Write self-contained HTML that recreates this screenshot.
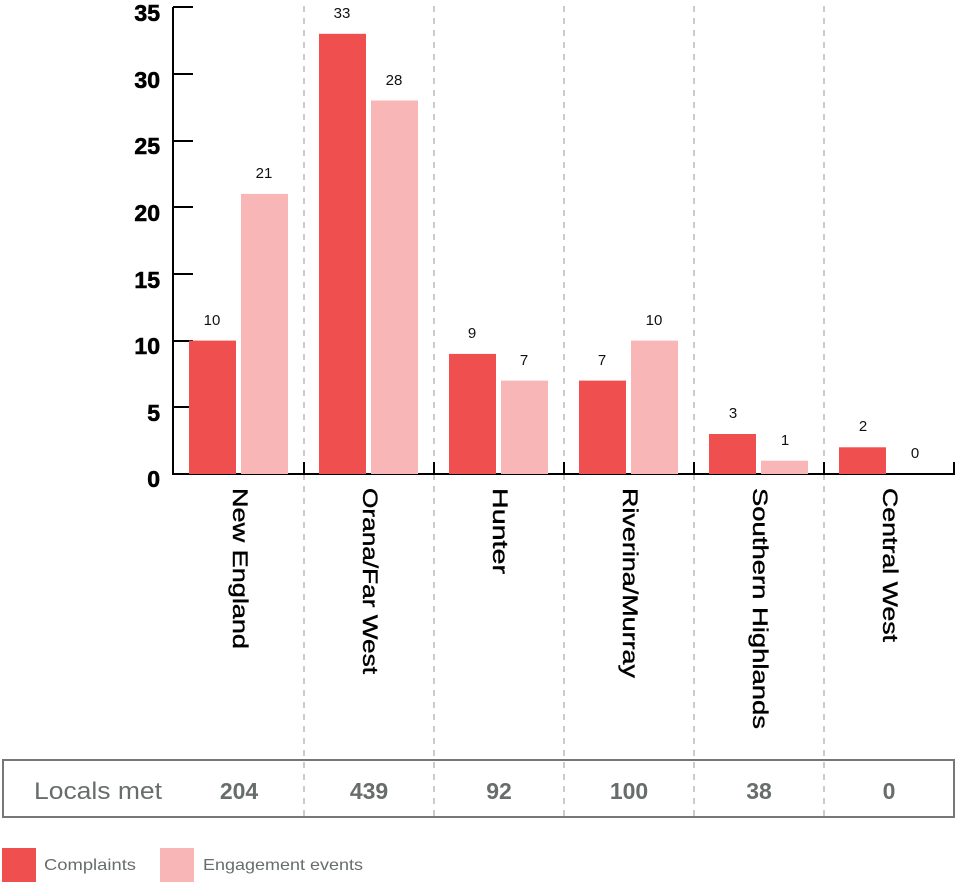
<!DOCTYPE html>
<html><head><style>body{margin:0;background:#fff}svg{display:block}</style></head><body>
<svg width="957" height="883" xmlns="http://www.w3.org/2000/svg" font-family="Liberation Sans, sans-serif">
<g stroke="#bbb" stroke-width="1.5" stroke-dasharray="6,6">
<line x1="304" y1="6" x2="304" y2="818"/><line x1="434" y1="6" x2="434" y2="818"/><line x1="564" y1="6" x2="564" y2="818"/><line x1="694" y1="6" x2="694" y2="818"/><line x1="824" y1="6" x2="824" y2="818"/>
</g>
<g stroke="#000" stroke-width="2" fill="none">
<line x1="173" y1="7" x2="173" y2="475"/>
<line x1="172" y1="474" x2="955" y2="474"/>
<line x1="173" y1="7" x2="193" y2="7"/><line x1="173" y1="74" x2="193" y2="74"/><line x1="173" y1="141" x2="193" y2="141"/><line x1="173" y1="207" x2="193" y2="207"/><line x1="173" y1="274" x2="193" y2="274"/><line x1="173" y1="341" x2="193" y2="341"/><line x1="173" y1="407" x2="193" y2="407"/>
<line x1="304" y1="462" x2="304" y2="474"/><line x1="434" y1="462" x2="434" y2="474"/><line x1="564" y1="462" x2="564" y2="474"/><line x1="694" y1="462" x2="694" y2="474"/><line x1="824" y1="462" x2="824" y2="474"/><line x1="954" y1="462" x2="954" y2="474"/>
</g>
<g font-weight="bold" font-size="23" text-anchor="end" fill="#000" stroke="#000" stroke-width="0.6">
<text x="160" y="21">35</text><text x="160" y="88">30</text><text x="160" y="154">25</text><text x="160" y="221">20</text><text x="160" y="288">15</text><text x="160" y="354">10</text><text x="160" y="421">5</text><text x="160" y="487">0</text>
</g>
<g fill="#ef4f4f">
<rect x="189" y="340.6" width="47" height="133.4"/><rect x="319" y="33.8" width="47" height="440.2"/><rect x="449" y="353.9" width="47" height="120.1"/><rect x="579" y="380.6" width="47" height="93.4"/><rect x="709" y="434" width="47" height="40"/><rect x="839" y="447.3" width="47" height="26.7"/>
</g>
<g fill="#f8b6b6">
<rect x="241" y="193.9" width="47" height="280.1"/><rect x="371" y="100.5" width="47" height="373.5"/><rect x="501" y="380.6" width="47" height="93.4"/><rect x="631" y="340.6" width="47" height="133.4"/><rect x="761" y="460.7" width="47" height="13.3"/>
</g>
<g font-size="15" text-anchor="middle" fill="#111">
<text x="212" y="325">10</text><text x="264" y="178">21</text><text x="342" y="18">33</text><text x="394" y="85">28</text><text x="472" y="338">9</text><text x="524" y="365">7</text><text x="602" y="365">7</text><text x="654" y="325">10</text><text x="733" y="418">3</text><text x="785" y="445">1</text><text x="863" y="431">2</text><text x="915" y="458">0</text>
</g>
<g font-size="21" fill="#000" stroke="#000" stroke-width="0.4">
<text transform="translate(233,488) rotate(90)" textLength="161" lengthAdjust="spacingAndGlyphs">New England</text>
<text transform="translate(363,488) rotate(90)" textLength="186" lengthAdjust="spacingAndGlyphs">Orana/Far West</text>
<text transform="translate(493,488) rotate(90)" textLength="86" lengthAdjust="spacingAndGlyphs">Hunter</text>
<text transform="translate(623,488) rotate(90)" textLength="190" lengthAdjust="spacingAndGlyphs">Riverina/Murray</text>
<text transform="translate(753,488) rotate(90)" textLength="241" lengthAdjust="spacingAndGlyphs">Southern Highlands</text>
<text transform="translate(883,488) rotate(90)" textLength="154" lengthAdjust="spacingAndGlyphs">Central West</text>
</g>
<rect x="3" y="760" width="951" height="57" fill="none" stroke="#777" stroke-width="2"/>
<text x="34" y="799" font-size="24" fill="#666d6b" textLength="128" lengthAdjust="spacingAndGlyphs">Locals met</text>
<g font-size="23" font-weight="bold" fill="#666d6b" text-anchor="middle">
<text x="239" y="799">204</text><text x="369" y="799">439</text><text x="499" y="799">92</text><text x="629" y="799">100</text><text x="759" y="799">38</text><text x="889" y="799">0</text>
</g>
<rect x="2" y="848" width="34" height="34" fill="#ef4f4f"/>
<rect x="160" y="848" width="34" height="34" fill="#f8b6b6"/>
<text x="44" y="870" font-size="16" fill="#666d6b" textLength="92" lengthAdjust="spacingAndGlyphs">Complaints</text>
<text x="203" y="870" font-size="16" fill="#666d6b" textLength="160" lengthAdjust="spacingAndGlyphs">Engagement events</text>
</svg>
</body></html>
